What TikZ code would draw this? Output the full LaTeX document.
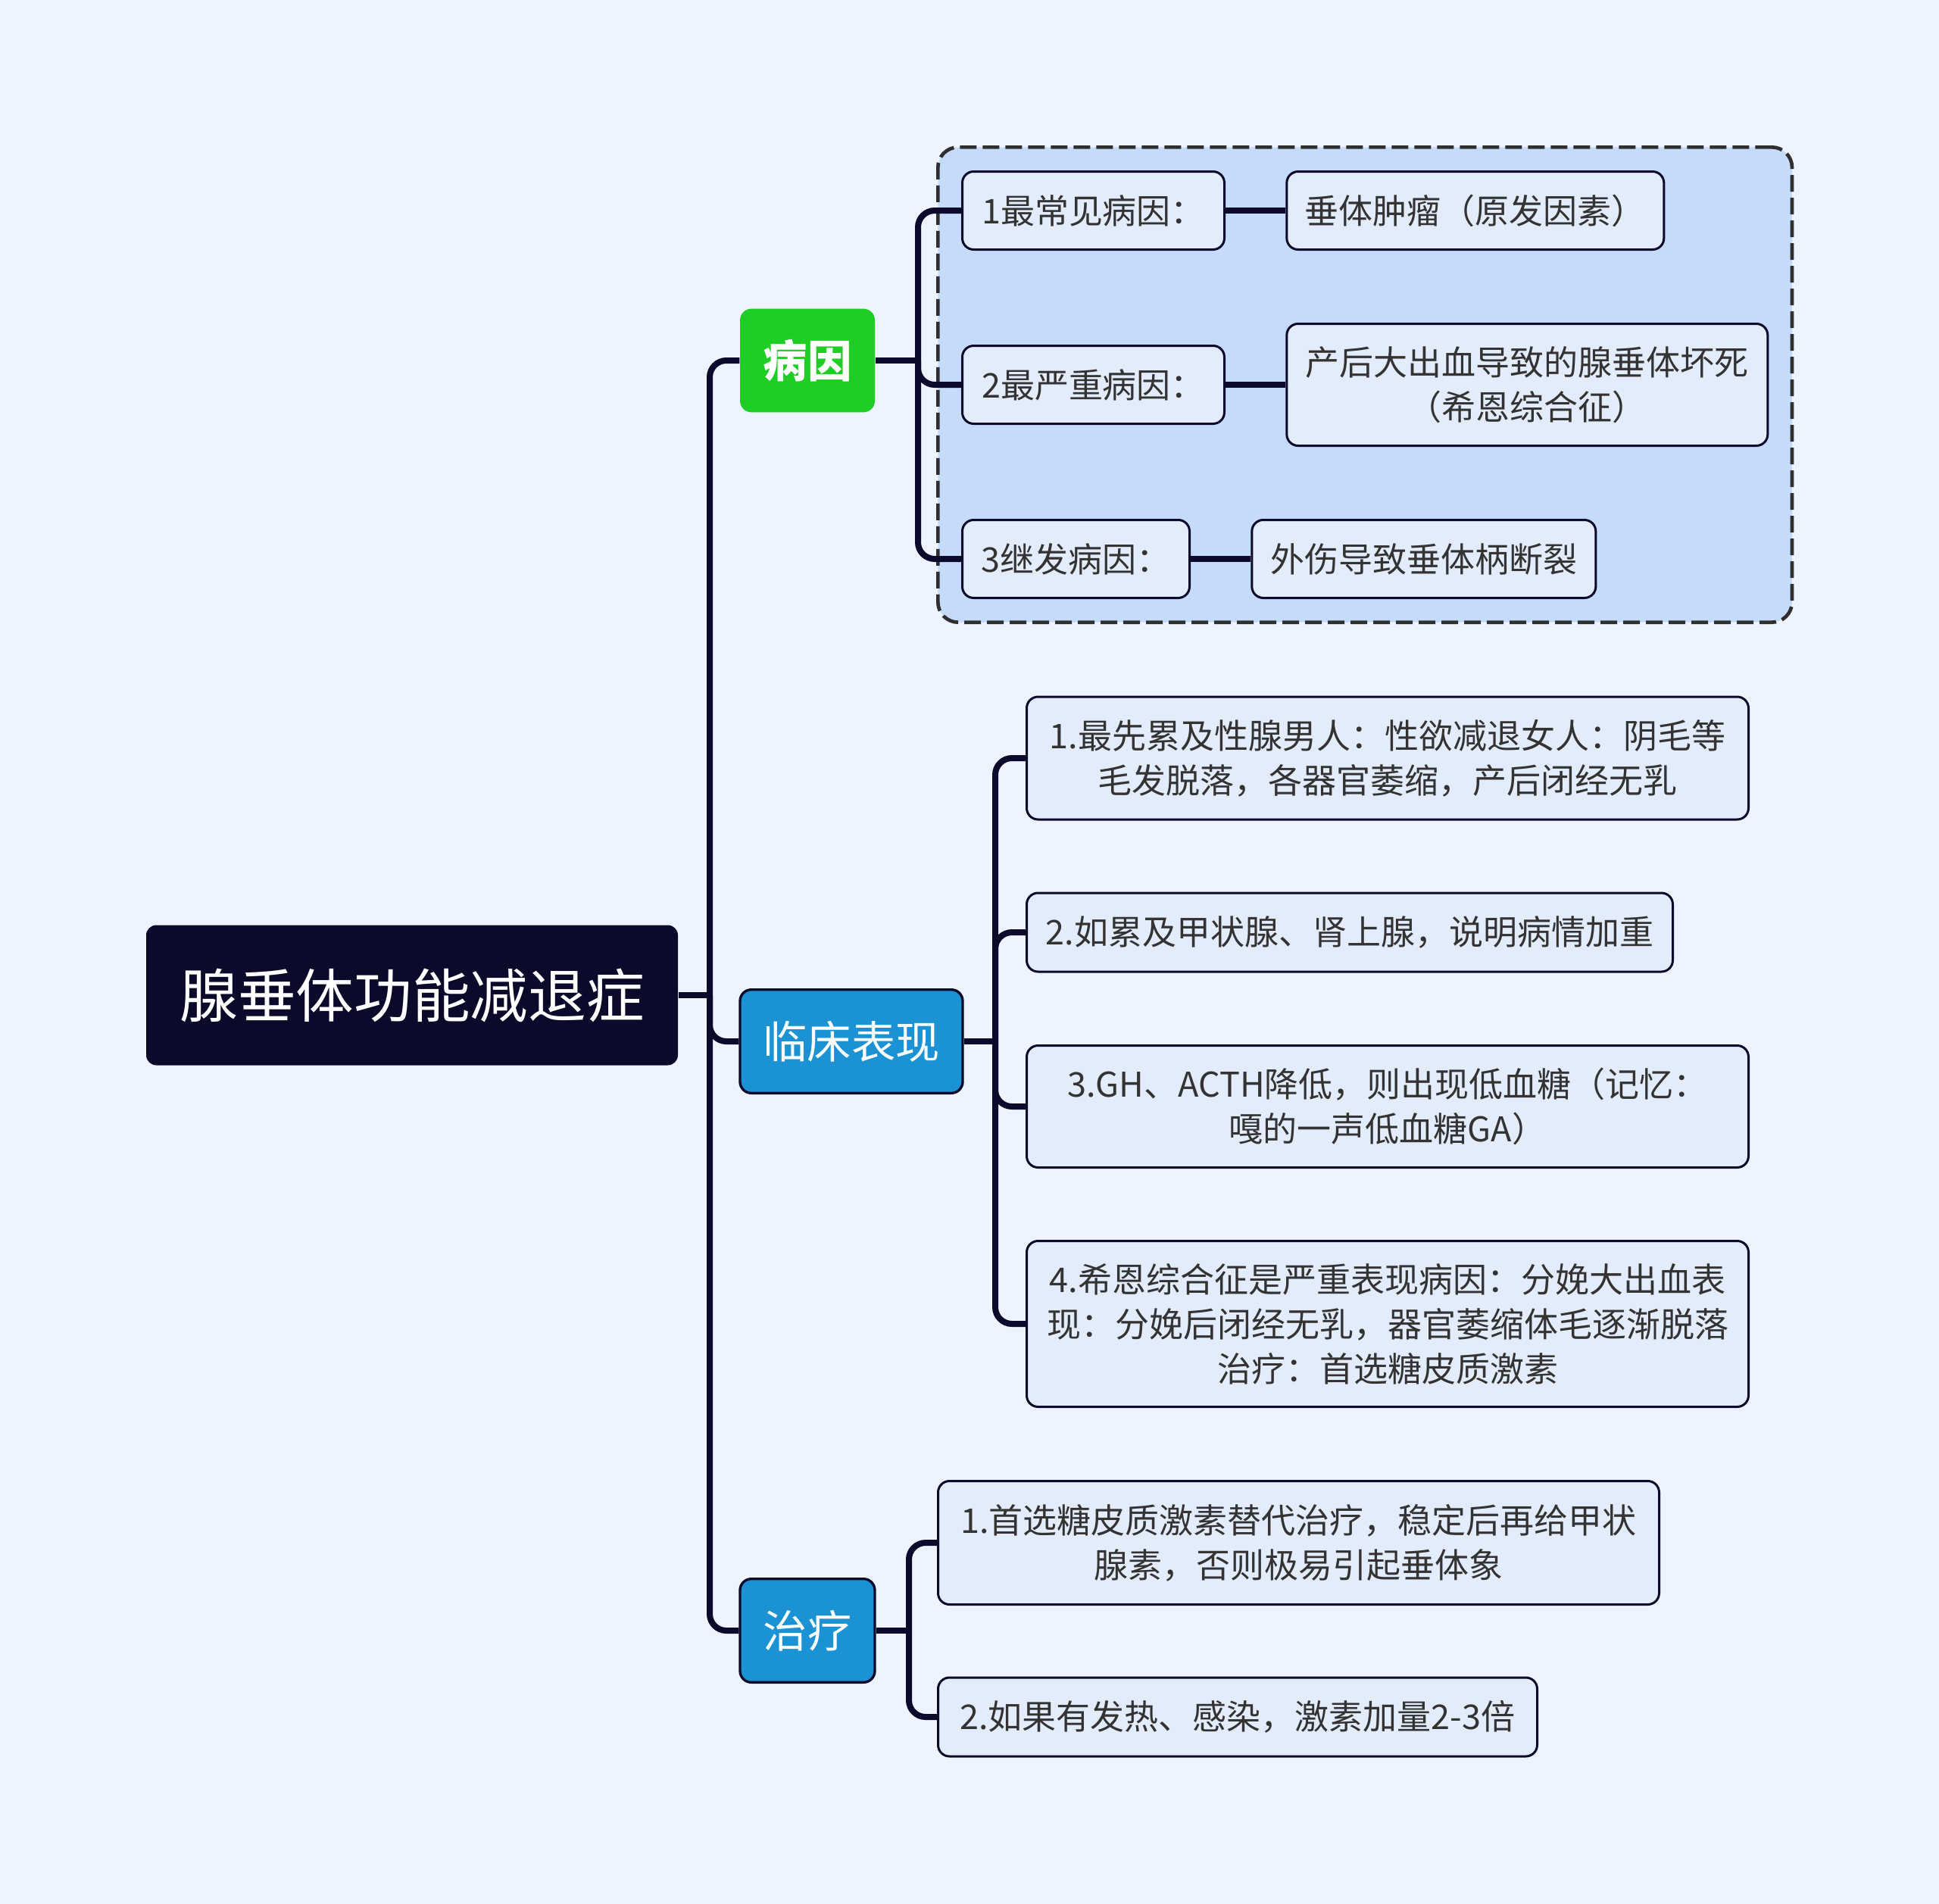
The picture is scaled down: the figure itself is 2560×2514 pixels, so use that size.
\documentclass[tikz,border=0pt]{standalone}
\usepackage{fontspec}
\setmainfont{Noto Sans CJK SC}
\usetikzlibrary{positioning,fit,backgrounds}
\definecolor{pagebg}{RGB}{238,244,255}
\definecolor{inkblue}{RGB}{12,10,43}
\definecolor{grpfill}{RGB}{198,219,250}
\definecolor{leaffill}{RGB}{227,236,251}
\definecolor{causegreen}{RGB}{30,206,37}
\definecolor{clinblue}{RGB}{26,146,212}
\definecolor{leaftext}{RGB}{51,51,51}
\definecolor{dashgrey}{RGB}{47,47,47}
\tikzset{
  rootbox/.style={fill=inkblue,text=white,rounded corners=4pt,minimum width=210.6pt,
                  minimum height=55.5pt,font=\fontsize{23}{28}\selectfont},
  catbox/.style={rounded corners=4.5pt,text=white,minimum height=41pt,
                 font=\fontsize{17.5}{21}\selectfont},
  leaf/.style={draw=inkblue,line width=0.9pt,fill=leaffill,rounded corners=4.5pt,text=leaftext,
               align=center,inner xsep=4pt,inner ysep=2pt,minimum height=30.9pt,
               font=\fontsize{13.5}{17.7}\selectfont},
  link/.style={draw=inkblue,line width=2.4pt,rounded corners=6.6pt},
  group/.style={draw=dashgrey,line width=1.4pt,dash pattern=on 6.6pt off 2.4pt,
                fill=grpfill,rounded corners=8pt,inner sep=9.2pt}
}
\begin{document}
\begin{tikzpicture}[x=0.3pt,y=-0.3pt,node distance=23.8pt]
  \useasboundingbox (0,0) rectangle (2560,2514);
  % main topic and branches
  \node[rootbox] (root) at (544,1314) {腺垂体功能减退症};
  \node[catbox,fill=causegreen,minimum width=53.4pt,font=\fontsize{17.5}{21}\selectfont\bfseries] (cause) at (1066,476) {病因};
  \node[catbox,fill=clinblue,draw=inkblue,line width=1pt,minimum width=88.2pt] (clin) at (1124,1375) {临床表现};
  \node[catbox,fill=clinblue,draw=inkblue,line width=1pt,minimum width=53.4pt] (treat) at (1066,2153) {治疗};
  % causes
  \node[leaf,anchor=west,minimum width=103.8pt] (k1) at (1269,278) {1最常见病因：};
  \node[leaf,right=of k1,minimum width=149.4pt] (k1r) {垂体肿瘤（原发因素）};
  \node[leaf,anchor=west,minimum width=103.8pt] (k2) at (1269,508) {2最严重病因：};
  \node[leaf,right=of k2,minimum width=190.5pt,minimum height=48.3pt] (k2r) {产后大出血导致的腺垂体坏死\\（希恩综合征）};
  \node[leaf,anchor=west,minimum width=90pt] (k3) at (1269,738) {3继发病因：};
  \node[leaf,right=of k3,minimum width=136.2pt] (k3r) {外伤导致垂体柄断裂};
  % clinical picture
  \node[leaf,anchor=west,minimum width=285.9pt,minimum height=48.6pt] (c1) at (1354,1001) {1.最先累及性腺男人：性欲减退女人：阴毛等\\毛发脱落，各器官萎缩，产后闭经无乳};
  \node[leaf,anchor=west,minimum width=255.9pt,minimum height=31.2pt] (c2) at (1354,1231) {2.如累及甲状腺、肾上腺，说明病情加重};
  \node[leaf,anchor=west,minimum width=285.9pt,minimum height=48.3pt] (c3) at (1354,1461) {3.GH、ACTH降低，则出现低血糖（记忆：\\嘎的一声低血糖GA）};
  \node[leaf,anchor=west,minimum width=285.9pt,minimum height=65.7pt] (c4) at (1354,1748) {4.希恩综合征是严重表现病因：分娩大出血表\\现：分娩后闭经无乳，器官萎缩体毛逐渐脱落\\治疗：首选糖皮质激素};
  % treatment
  \node[leaf,anchor=west,minimum width=285.6pt,minimum height=48.9pt] (t1) at (1237,2037) {1.首选糖皮质激素替代治疗，稳定后再给甲状\\腺素，否则极易引起垂体象};
  \node[leaf,anchor=west,minimum width=237.3pt,minimum height=31.2pt] (t2) at (1237,2267) {2.如果有发热、感染，激素加量2-3倍};
  \begin{scope}[on background layer]
    \fill[pagebg] (0,0) rectangle (2560,2514);
    \node[group,fit=(k1)(k2r)(k3)] (grp) {};
  \end{scope}
  % connectors
  \coordinate (rj) at (937,1314);
  \coordinate (cj) at (1212,476);
  \coordinate (mj) at (1314,1375);
  \coordinate (tj) at (1200,2153);
  \draw[link] (root.east) -- (rj);
  \foreach \n in {cause,clin,treat} \draw[link] (rj) |- (\n.west);
  \draw[link] (cause.east) -- (cj);
  \foreach \n in {k1,k2,k3} \draw[link] (cj) |- (\n.west);
  \draw[link] (k1.east) -- (k1r.west);
  \draw[link] (k2.east) -- (k2r.west);
  \draw[link] (k3.east) -- (k3r.west);
  \draw[link] (clin.east) -- (mj);
  \foreach \n in {c1,c2,c3,c4} \draw[link] (mj) |- (\n.west);
  \draw[link] (treat.east) -- (tj);
  \foreach \n in {t1,t2} \draw[link] (tj) |- (\n.west);
\end{tikzpicture}
\end{document}
